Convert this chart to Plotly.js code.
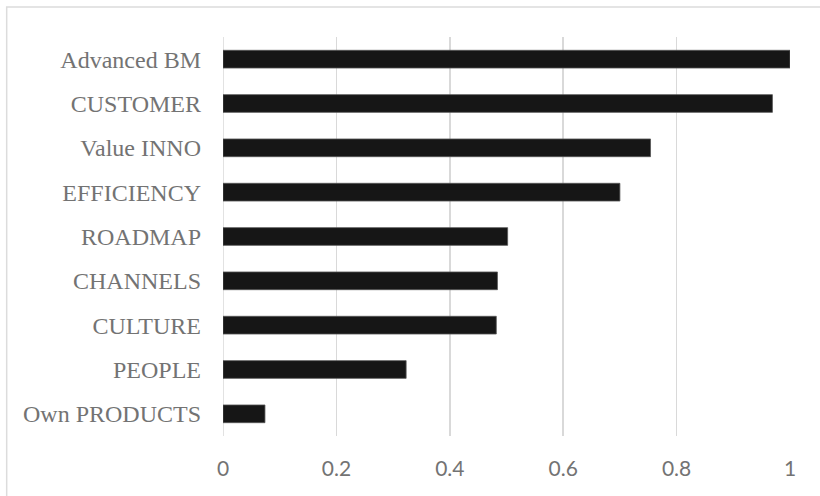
<!DOCTYPE html>
<html>
<head>
<meta charset="utf-8">
<script src="https://cdn.plot.ly/plotly-3.0.1.min.js"></script>
<style>html,body{margin:0;padding:0;background:#fff;}#chart{width:820px;height:496px;}</style>
</head>
<body>
<div id="chart"></div>
<script>
const categories = ["Own PRODUCTS", "PEOPLE", "CULTURE", "CHANNELS", "ROADMAP", "EFFICIENCY", "Value INNO", "CUSTOMER", "Advanced BM"];
const values = [0.074, 0.323, 0.482, 0.484, 0.502, 0.700, 0.754, 0.969, 1.0];
const xTickVals = [0, 0.2, 0.4, 0.6, 0.8, 1];
const xTickText = ["0", "0.2", "0.4", "0.6", "0.8", "1"];

const trace = {
  type: "bar",
  orientation: "h",
  y: categories,
  x: values,
  marker: { color: "#161616", line: { color: "#555555", width: 0.8 } },
  hoverinfo: "x+y"
};

const layout = {
  width: 820,
  height: 496,
  margin: { l: 222.5, r: 30, t: 36.5, b: 59.5, pad: 0 },
  paper_bgcolor: "#ffffff",
  plot_bgcolor: "#ffffff",
  bargap: 0.6,
  showlegend: false,
  xaxis: {
    range: [0, 1.0],
    tickvals: xTickVals,
    ticktext: xTickText,
    showgrid: true,
    gridcolor: "#d9d9d9",
    gridwidth: 1.5,
    zeroline: false,
    showline: false,
    ticks: "",
    ticklabelstandoff: 18,
    tickfont: { family: "Lato, 'Open Sans', sans-serif", size: 21, color: "#737373" }
  },
  yaxis: {
    type: "category",
    categoryorder: "array",
    categoryarray: categories,
    showgrid: false,
    zeroline: false,
    showline: false,
    ticks: "",
    ticklabelstandoff: 21,
    tickfont: { family: "'Liberation Serif', 'Times New Roman', serif", size: 24, color: "#737373" }
  },
  shapes: [
    {
      type: "rect",
      xref: "paper", yref: "paper",
      x0: (6 - 222.5) / 567.5, x1: 2,
      y0: -1, y1: (436.5 - 6.5) / 400,
      line: { color: "#dcdcdc", width: 1.5 },
      fillcolor: "rgba(0,0,0,0)",
      layer: "below"
    },
    {
      type: "line",
      xref: "x", yref: "paper",
      x0: 0, x1: 0, y0: 0, y1: 1,
      line: { color: "#d9d9d9", width: 1.5 },
      layer: "below"
    }
  ]
};

Plotly.newPlot("chart", [trace], layout, { displayModeBar: false, staticPlot: true });
</script>
</body>
</html>
